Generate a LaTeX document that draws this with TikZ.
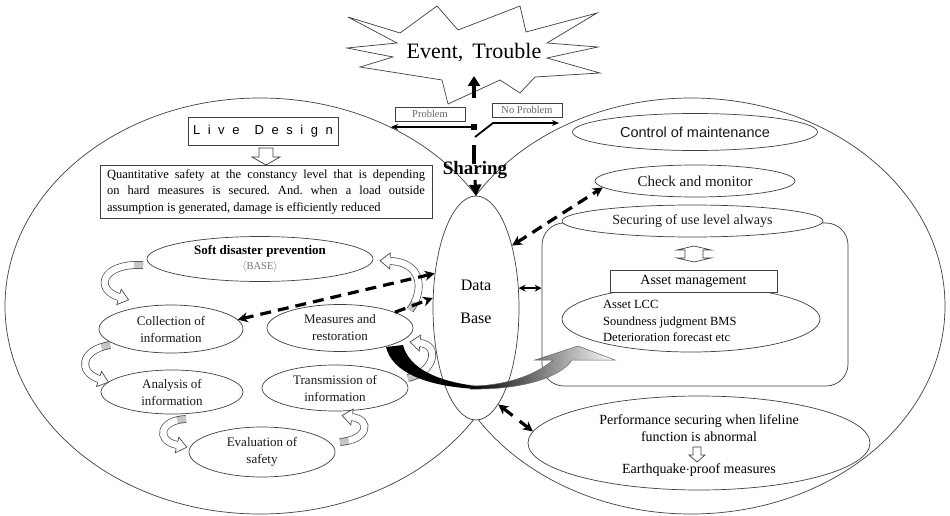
\documentclass[tikz,border=0pt]{standalone}
\usepackage{fontspec}
\setmainfont{Liberation Serif}
\newfontfamily\gothic{Liberation Sans}
\usetikzlibrary{shapes.geometric,arrows.meta,calc}

\newcommand\fsz[2]{\fontsize{#1pt}{#2pt}\selectfont}

% curved block arrow: outlined band, grey tail, hollow head at the end
\newcommand\bandarrow[4]{%
  \draw[line width=7.8pt, black!70] #1 .. controls #2 and #3 .. #4;
  \draw[line width=6.2pt, gray!45] #1 .. controls #2 and #3 .. #4;
  \draw[line width=6.2pt, white, dash pattern=on 0pt off 9pt on 600pt] #1 .. controls #2 and #3 .. #4;
  \fill[white] ($#4!8pt!90:#3$) -- ($#4!-10pt!#3$) -- ($#4!8pt!-90:#3$) -- cycle;
  \draw[black!70, line width=0.7pt, line join=miter]
    ($#4!3.7pt!90:#3$) -- ($#4!8pt!90:#3$) -- ($#4!-10pt!#3$) -- ($#4!8pt!-90:#3$) -- ($#4!3.7pt!-90:#3$);
}

\begin{document}
\begin{tikzpicture}[x=1pt,y=-1pt,
  ln/.style={draw=black!75, line width=0.7pt},
  oval/.style={ln, ellipse, inner sep=0pt, fill=white, align=center, text=black!90},
  box/.style={ln, rectangle, inner sep=0pt, fill=white, align=center},
  dsh/.style={line width=3.2pt, dash pattern=on 11pt off 7pt, black},
  tip/.style={-{Stealth[length=10pt,width=10pt]}},
  tips/.style={{Stealth[length=10pt,width=10pt]}-{Stealth[length=10pt,width=10pt]}},
  thickbar/.style={line width=3.5pt, black},
]
\useasboundingbox (0,0) rectangle (950,516);
\fill[white] (0,0) rectangle (950,516);
\frenchspacing

% the two large domains
\draw[ln] (260,306) ellipse [x radius=255, y radius=208];
\draw[ln] (691,306) ellipse [x radius=254, y radius=208];

% event burst
\draw[ln, fill=white, line join=miter] (348,17) -- (400,33) -- (437,6) -- (458,30) -- (520,6)
  -- (526,32) -- (597,13) -- (547,43) -- (598,47) -- (547,58) -- (600,73) -- (535,77)
  -- (520,93) -- (500,80) -- (448,104) -- (442,80) -- (360,67) -- (393,57) -- (347,48)
  -- (397,43) -- cycle;
\node[font=\fsz{22}{24}] (event) at (474,53) {Event,\hspace{9pt}Trouble};
\coordinate (evtip) at (474,76);

% shared data base
\node[oval, minimum width=86pt, minimum height=224pt] (db) at (476,308) {};
\node[font=\fsz{16}{33}, align=center] (dbt) at (476,302) {Data\\Base};

% decision branch above the data base
\coordinate (up0) at (474,98);
\draw[thickbar, -{Triangle[length=10pt,width=12pt]}] (up0) -- (evtip);
\node[fill=black, minimum size=6pt, inner sep=0pt] (jn) at (474,127) {};
\coordinate (pl) at (391,127);
\draw[line width=1.8pt, -{Stealth[length=7pt,width=6pt]}] (jn.center) -- (pl);
\coordinate (nps) at (475,137);
\coordinate (npk) at (493,123);
\coordinate (npe) at (559,123);
\draw[line width=1.8pt, -{Stealth[length=7pt,width=6pt]}] (nps) -- (npk) -- (npe);
\node[box, minimum width=70pt, minimum height=14pt, text=black!60, font=\fsz{10.5}{12}] (prob) at (430,114) {Problem};
\node[box, minimum width=70pt, minimum height=14pt, text=black!60, font=\fsz{10.5}{12}] (noprob) at (527,110) {No Problem};
\coordinate (v1) at (474,145);
\coordinate (v2) at (474,164);
\draw[thickbar] (v1) -- (v2);
\node[font=\bfseries\fsz{19}{20}, inner sep=1pt] (share) at (475,170) {Sharing};
\draw[line width=3pt, -{Triangle[length=11pt,width=12pt]}] (share.south) -- (db.north);

% left domain: design
\node[box, minimum width=150pt, minimum height=28pt] (live) at (263,131)
  {\gothic\fsz{13}{14}\makebox[140pt][s]{L\hfill i\hfill v\hfill e\hfill\hfill D\hfill e\hfill s\hfill i\hfill g\hfill n}};
\draw[ln, fill=white, line join=miter] (259,148) -- (273,148) -- (273,157) -- (280,157) -- (266,165)
  -- (252,157) -- (259,157) -- cycle;
\node[box, minimum width=332pt, minimum height=53pt, font=\fsz{12.5}{16.5}] (quant) at (266,191.5)
  {\makebox[318pt][s]{Quantitative safety at the constancy level that is depending}\\
   \makebox[318pt][s]{on hard measures is secured. And. when a load outside}\\
   \makebox[318pt][l]{assumption is generated, damage is efficiently reduced}};

% left domain: soft disaster prevention cycle
\node[oval, minimum width=226pt, minimum height=45pt] (soft) at (260,259) {};
\node[align=center, font=\fsz{13}{16}] (softt) at (260,259)
  {\bfseries Soft disaster prevention\\[-1pt] {\color{black!55}\fsz{10.5}{11}$\langle$BASE$\rangle$}};
\node[oval, minimum width=144pt, minimum height=48pt, font=\fsz{13}{17}] (coll) at (171,329) {Collection of\\information};
\node[oval, minimum width=146pt, minimum height=47pt, font=\fsz{13}{17}] (meas) at (340,328) {Measures and\\restoration};
\node[oval, minimum width=142pt, minimum height=44pt, font=\fsz{13}{17}] (anal) at (172,392) {Analysis of\\information};
\node[oval, minimum width=146pt, minimum height=46pt, font=\fsz{13}{17}] (trans) at (335,388) {Transmission of\\information};
\node[oval, minimum width=146pt, minimum height=50pt, font=\fsz{13}{17}] (evals) at (262,452) {Evaluation of\\safety};

\coordinate (a1s) at (143,265); \coordinate (a1e) at (119,297);
\coordinate (a2s) at (110,345); \coordinate (a2e) at (99,379);
\coordinate (a3s) at (186,419); \coordinate (a3e) at (177,445);
\coordinate (a4s) at (340,442); \coordinate (a4e) at (352,417);
\coordinate (a5s) at (408,378); \coordinate (a5e) at (420,343);
\coordinate (a6s) at (410,310); \coordinate (a6e) at (390,261);
\bandarrow{(a1s)}{(100,263)}{(95,290)}{(a1e)}
\bandarrow{(a2s)}{(80,350)}{(78,372)}{(a2e)}
\bandarrow{(a3s)}{(160,420)}{(155,440)}{(a3e)}
\bandarrow{(a4s)}{(368,440)}{(372,420)}{(a4e)}
\bandarrow{(a5s)}{(435,372)}{(440,345)}{(a5e)}
\bandarrow{(a6s)}{(425,290)}{(422,262)}{(a6e)}

% right domain: maintenance
\node[oval, minimum width=245pt, minimum height=37pt, font=\gothic\fsz{14.5}{16}] (ctrl) at (695,132) {Control of maintenance};
\node[oval, minimum width=200pt, minimum height=32pt, font=\fsz{15}{16}] (check) at (695,181) {Check and monitor};
\node[ln, rectangle, rounded corners=22pt, minimum width=306pt, minimum height=163pt, inner sep=0pt] (ambox) at (695,304.5) {};
\node[oval, minimum width=261pt, minimum height=32pt, font=\fsz{14}{16}] (secur) at (692.5,221) {Securing of use level always};
\draw[ln, fill=white, line join=miter] (677,250) -- (694,246) -- (711,250) -- (703,250) -- (703,258)
  -- (711,258) -- (694,262) -- (677,258) -- (685,258) -- (685,250) -- cycle;
\node[oval, minimum width=258pt, minimum height=66pt] (amell) at (691,319) {};
\node[box, minimum width=167pt, minimum height=22pt, font=\fsz{14}{16}] (amrect) at (693.5,281) {Asset management};
\node[anchor=west, align=left, font=\fsz{12.5}{16.5}, inner sep=0pt] (amtext) at (603,321)
  {Asset LCC\\Soundness judgment BMS\\Deterioration forecast etc};

\node[ln, ellipse, inner sep=0pt, minimum width=342pt, minimum height=94pt] (perf) at (699,443) {};
\node[align=center, font=\fsz{14}{17}] (perft1) at (699,428) {Performance securing when lifeline\\function is abnormal};
\draw[ln, fill=white, line join=miter] (693,447) -- (701,447) -- (701,455) -- (705,455) -- (697,462)
  -- (689,455) -- (693,455) -- cycle;
\node[font=\fsz{14}{17}] (perft2) at (699,470) {Earthquake$\cdot$proof measures};

% flow from restoration into asset management
\fill[black] (386,347) .. controls (392,372) and (425,386) .. (476,389)
  -- (476,386) .. controls (436,381) and (409,368) .. (403,345) -- cycle;
\shadedraw[left color=black, right color=white, draw=black!60, line width=0.5pt, line join=miter]
  (470,386) .. controls (510,386) and (540,372) .. (553,360) -- (535,360) -- (578,346)
  -- (615,360) -- (572,360) .. controls (560,378) and (520,390) .. (470,389) -- cycle;

% data exchange with the data base
\draw[dsh, tips] (db.140) -- (coll.8);
\draw[dsh, tip] (meas.16) -- (db.167);
\draw[dsh, tips] (db.60) -- (check.184);
\draw[line width=2pt, {Stealth[length=7pt,width=7pt]}-{Stealth[length=7pt,width=7pt]}] (db.25) -- (db.25 -| ambox.west);
\draw[dsh, dash pattern=on 12pt off 9pt, tips] (db.-77) -- (perf.176);
\end{tikzpicture}
\end{document}
